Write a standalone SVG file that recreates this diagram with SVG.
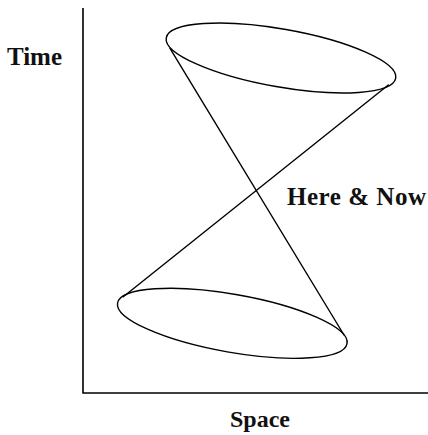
<svg xmlns="http://www.w3.org/2000/svg" width="428" height="435" viewBox="0 0 428 435">
<style>
.ln{fill:none;stroke:#000;stroke-width:1.4;stroke-linecap:round}
.ax{fill:none;stroke:#000;stroke-width:1.6}
.t{font-family:"Liberation Serif","Times New Roman",serif;font-weight:bold;fill:#111}
</style>
<rect width="428" height="435" fill="#fff"/>
<g id="axes">
<path class="ax" d="M83,8 V393 H428"/>
</g>
<g id="connectors">
<line class="ln" x1="170" y1="48.3" x2="344" y2="335"/>
<line class="ln" x1="388.3" y1="85" x2="123.3" y2="296.7"/>
</g>
<g id="future-cone">
<ellipse class="ln" cx="281" cy="58" rx="116.5" ry="29" transform="rotate(10 281 58)"/>
</g>
<g id="past-cone">
<ellipse class="ln" cx="232.3" cy="323.3" rx="116.5" ry="29" transform="rotate(10 232.3 323.3)"/>
</g>
<g id="label-time"><text class="t" x="7" y="65" font-size="25" textLength="55">Time</text></g>
<g id="label-here-now"><text class="t" x="287" y="204.5" font-size="25" textLength="139">Here &amp; Now</text></g>
<g id="label-space"><text class="t" x="230" y="427" font-size="24" textLength="60">Space</text></g>
</svg>
